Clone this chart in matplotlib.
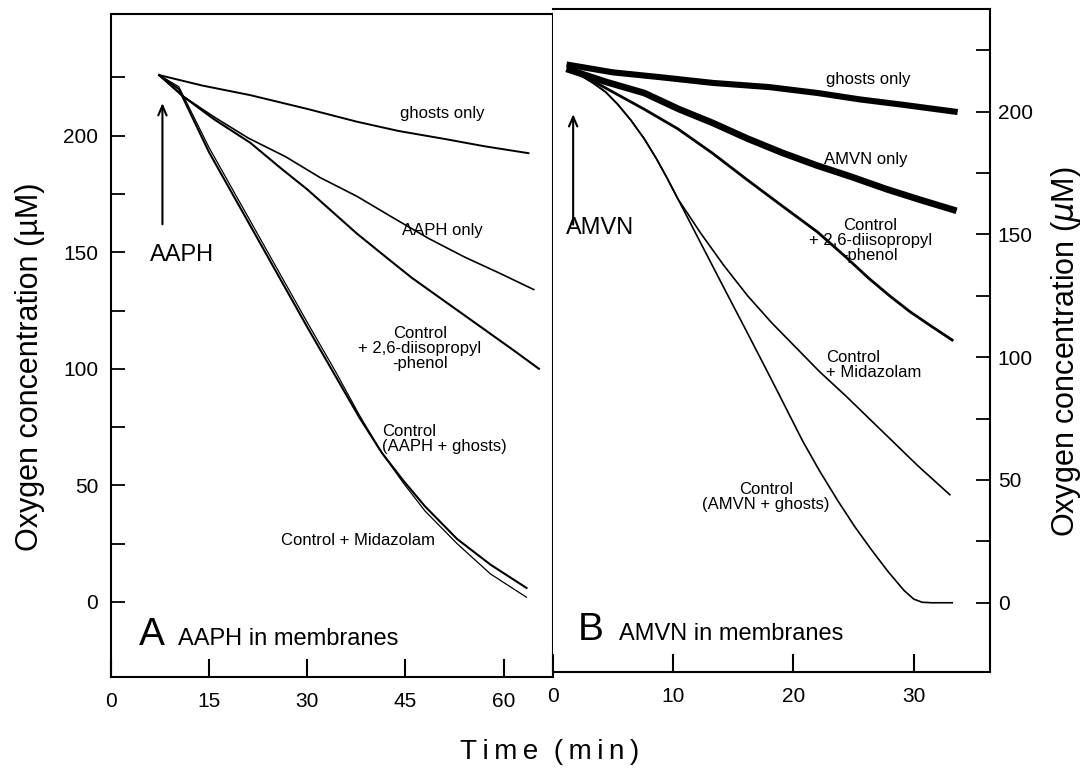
import matplotlib
matplotlib.use('Agg')
import matplotlib.pyplot as plt
from matplotlib.ticker import FixedLocator, NullFormatter

plt.rcParams['font.family'] = ['Liberation Sans', 'DejaVu Sans']

# ---------------- Panel A: AAPH in membranes (time in min, O2 in µM) -------------
a_ghosts_t = [7.4, 14, 21.3, 30, 37.6, 44, 51.2, 57, 63.8]
a_ghosts_y = [226, 221.5, 217.4, 211.5, 206, 202, 198.5, 195.5, 192.5]

a_aaph_t = [7.4, 11, 15.8, 21, 26.7, 32, 37.6, 43, 48.5, 54, 59.4, 64.6]
a_aaph_y = [226, 217, 208, 199, 191, 182, 174, 165, 156, 148, 141, 134]

a_dip_t = [7.4, 11, 15.8, 21.3, 26, 30, 34, 37.6, 42, 46, 50, 54, 58, 61.5, 65.4]
a_dip_y = [226, 217, 207, 197, 186, 177, 167, 158, 148, 139, 131, 123, 115, 108, 100]

a_ctrl_t = [7.4, 10.4, 15, 20, 25, 30, 34.3, 38, 41.4, 44.7, 48, 52.9, 58, 63.5]
a_ctrl_y = [226, 220, 193, 168, 143, 118, 97, 79, 64, 52, 41, 27, 16, 6]

a_mid_t = [7.4, 10.4, 15, 20, 25, 30, 34.3, 38, 41.4, 44.7, 48, 52.9, 58, 63.5]
a_mid_y = [226, 221, 195, 170, 145, 120, 99, 80, 64, 51, 39, 25, 12, 2]

# ---------------- Panel B: AMVN in membranes -------------------------------------
b_ghosts_t = [1.4, 5, 9, 13.3, 18, 22, 25.5, 29.1, 33.4]
b_ghosts_y = [219, 216, 214, 211.7, 210, 207.6, 205, 202.8, 200]

b_amvn_t = [1.4, 4.5, 7.6, 10.5, 13.3, 16.2, 19.1, 22, 24.8, 27.7, 30.6, 33.3]
b_amvn_y = [217, 212, 207.6, 201, 195.4, 189, 183.2, 178, 173.5, 168.5, 164, 160]

b_dip_t = [1.4, 2.5, 3.7, 5, 6.3, 7.6, 9, 10.4, 13.3, 16.2, 19.1, 22, 24.2, 26.3,
           28, 29.7, 31.5, 33.2]
b_dip_y = [217, 214.5, 211.5, 208, 204.5, 201, 197, 193, 183, 172.1, 161.5, 151,
           141.5, 132, 125, 118.5, 112.5, 107]

b_mid_t = [1.4, 2.4, 3.4, 4.4, 5.4, 6.5, 7.6, 8.6, 9.5, 10.4, 12.3, 14.2, 16.2,
           18.2, 20.2, 22.2, 24.3, 26.3, 28.3, 30.3, 33]
b_mid_y = [217, 214.5, 211.5, 208, 203, 196.5, 189, 181, 173, 164.5, 150.5, 137.5,
           125, 114, 104, 94, 84.5, 75, 65.5, 56, 44]

b_ctrl_t = [1.4, 2.4, 3.4, 4.4, 5.4, 6.5, 7.6, 8.6, 9.5, 10.4, 12.3, 14.2, 16.2,
            18.2, 20.8, 22.2, 23.7, 25.1, 26.5, 27.9, 29.2, 30.0, 30.7, 31.5, 33.2]
b_ctrl_y = [217, 214.5, 211.5, 208, 203, 196.5, 189, 181, 173, 164.5, 146.5, 128.5,
            109.7, 90.7, 65.6, 53.5, 41.5, 31, 21.5, 12.5, 5, 1.5, 0.2, 0, 0]

a_xticks = [0, 15, 30, 45, 60]
b_xticks = [0, 10, 20, 30]
y_major = [0, 50, 100, 150, 200]
y_minor = [25, 75, 125, 175, 225]

W, H = 1083, 769
fig = plt.figure(figsize=(W / 100, H / 100), dpi=100)
axL = fig.add_axes([110.7 / W, 1 - 677 / H, 442 / W, 663 / H])
axR = fig.add_axes([552.7 / W, 1 - 672 / H, 436.8 / W, 663 / H])

k = 'black'
axL.plot(a_ghosts_t, a_ghosts_y, color=k, lw=1.4)
axL.plot(a_aaph_t, a_aaph_y, color=k, lw=1.2)
axL.plot(a_dip_t, a_dip_y, color=k, lw=1.5)
axL.plot(a_ctrl_t, a_ctrl_y, color=k, lw=1.5)
axL.plot(a_mid_t, a_mid_y, color=k, lw=0.9)

axR.plot(b_ghosts_t, b_ghosts_y, color=k, lw=4.4, solid_joinstyle='round')
axR.plot(b_amvn_t, b_amvn_y, color=k, lw=4.8, solid_joinstyle='round')
axR.plot(b_dip_t, b_dip_y, color=k, lw=2.0, solid_joinstyle='round')
axR.plot(b_mid_t, b_mid_y, color=k, lw=1.2, solid_joinstyle='round')
axR.plot(b_ctrl_t, b_ctrl_y, color=k, lw=1.2, solid_joinstyle='round')

axL.set_xlim(0, 67.5)
axL.set_ylim(-32.2, 252.2)
axR.set_xlim(0, 36.3)
axR.set_ylim(-28.2, 241.8)

for ax in (axL, axR):
    for s in ax.spines.values():
        s.set_linewidth(1.5)
axR.spines['left'].set_visible(False)

axL.xaxis.set_major_locator(FixedLocator(a_xticks))
axR.xaxis.set_major_locator(FixedLocator(b_xticks))
for ax in (axL, axR):
    ax.yaxis.set_major_locator(FixedLocator(y_major))
    ax.yaxis.set_minor_locator(FixedLocator(y_minor))
    ax.yaxis.set_minor_formatter(NullFormatter())
    ax.tick_params(axis='x', which='major', direction='in', length=13, width=1.5,
                   labelsize=15, pad=11, top=False)
    ax.tick_params(axis='y', which='both', direction='in', length=10, width=1.3,
                   labelsize=15)

axL.tick_params(axis='y', which='both', left=True, right=False, pad=9)
axR.yaxis.tick_right()
axR.tick_params(axis='y', which='both', left=False, right=True, labelleft=False,
                labelright=True, pad=6)

arrow_kw = dict(arrowstyle='->,head_length=0.7,head_width=0.3', lw=1.5, color=k,
                shrinkA=0, shrinkB=0)
axL.annotate('', xy=(7.9, 214), xytext=(7.9, 162), arrowprops=arrow_kw)
axR.annotate('', xy=(1.7, 199), xytext=(1.7, 154), arrowprops=arrow_kw)

axL.text(10.9, 148.8, 'AAPH', fontsize=17, ha='center', va='center')
axR.text(3.9, 152.5, 'AMVN', fontsize=17, ha='center', va='center')

fs = 12
axL.text(50.7, 209.7, 'ghosts only', fontsize=fs, ha='center', va='center')
axL.text(50.7, 159.5, 'AAPH only', fontsize=fs, ha='center', va='center')
axL.text(47.2, 108.9, 'Control\n+ 2,6-diisopropyl\n-phenol', fontsize=fs,
         ha='center', va='center', linespacing=1.0)
axL.text(41.5, 69.9, 'Control\n(AAPH + ghosts)', fontsize=fs, ha='left',
         va='center', linespacing=1.0)
axL.text(37.8, 26.2, 'Control + Midazolam', fontsize=fs, ha='center', va='center')

axR.text(26.2, 212.9, 'ghosts only', fontsize=fs, ha='center', va='center')
axR.text(26.0, 180.7, 'AMVN only', fontsize=fs, ha='center', va='center')
axR.text(26.4, 147.7, 'Control\n+ 2,6-diisopropyl\n-phenol', fontsize=fs,
         ha='center', va='center', linespacing=1.0)
axR.text(22.7, 96.8, 'Control\n+ Midazolam', fontsize=fs, ha='left',
         va='center', linespacing=1.0)
axR.text(17.7, 43, 'Control\n(AMVN + ghosts)', fontsize=fs, ha='center',
         va='center', linespacing=1.0)

axL.text(4.3, -18.4, 'A', fontsize=28, ha='left', va='baseline')
axL.text(10.3, -18.4, 'AAPH in membranes', fontsize=17, ha='left', va='baseline')
axR.text(2.1, -15.2, 'B', fontsize=28, ha='left', va='baseline')
axR.text(5.5, -15.2, 'AMVN in membranes', fontsize=17, ha='left', va='baseline')

fig.text(30 / W, 1 - 367 / H, 'Oxygen concentration (µM)', fontsize=22,
         rotation=90, ha='center', va='center')
fig.text(1066 / W, 1 - 352 / H, r'Oxygen concentration ($\mu$M)', fontsize=22,
         rotation=90, ha='center', va='center')
time_label = '\u2009'.join('Time') + '  ' + '\u2009'.join('(min)')
fig.text(549.5 / W, 1 - 752 / H, time_label, fontsize=20, ha='center', va='center')

fig.savefig('out.png', dpi=100)
